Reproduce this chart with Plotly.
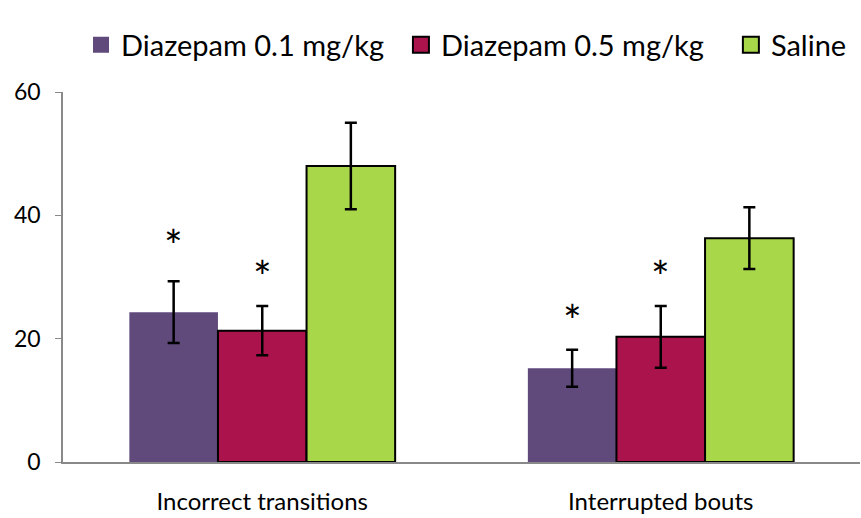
import plotly.graph_objects as go

categories = ["Incorrect transitions", "Interrupted bouts"]
series_names = ["Diazepam 0.1 mg/kg", "Diazepam 0.5 mg/kg", "Saline"]
values = {
    "Diazepam 0.1 mg/kg": [24.3, 15.2],
    "Diazepam 0.5 mg/kg": [21.3, 20.3],
    "Saline": [48.0, 36.3],
}
errors = {
    "Diazepam 0.1 mg/kg": [5.0, 3.0],
    "Diazepam 0.5 mg/kg": [4.0, 5.0],
    "Saline": [7.0, 5.0],
}
# significance markers: (category index, series index, y position)
asterisks = [(0, 0, 36.5), (0, 1, 31.5), (1, 0, 24.3), (1, 1, 31.5)]

colors = ["#604A7B", "#AA134B", "#A8D84A"]
outlines = [0, 2, 2]
legend_ids = ["legend", "legend2", "legend3"]
legend_x = [0.0226, 0.424, 0.838]

fig = go.Figure()
for i, name in enumerate(series_names):
    fig.add_trace(go.Bar(
        name=name, x=categories, y=values[name], showlegend=False,
        marker=dict(color=colors[i], line=dict(color="black", width=outlines[i])),
        error_y=dict(type="data", array=errors[name], color="black", thickness=2.5, width=6),
    ))
# legend entries with larger square symbols
for i, name in enumerate(series_names):
    fig.add_trace(go.Scatter(
        name=name, x=[None], y=[None], mode="markers", legend=legend_ids[i],
        marker=dict(symbol="square", size=16, color=colors[i],
                    line=dict(color="black", width=outlines[i])),
    ))

bargap = 0.333
bw = (1 - bargap) / 3
for ci, si, yv in asterisks:
    fig.add_annotation(x=ci + (si - 1) * bw, y=yv, xref="x", yref="y", text="*",
                       showarrow=False, font=dict(size=44, color="black", family="Lato"),
                       yanchor="middle", yshift=-8)

leg_common = dict(orientation="h", y=1.127, xanchor="left", yanchor="middle",
                  font=dict(size=29, family="Lato"), itemwidth=30, bgcolor="rgba(0,0,0,0)")
fig.update_layout(
    width=861, height=518,
    margin=dict(l=63, r=1, t=92, b=56),
    barmode="group", bargap=bargap, bargroupgap=0,
    plot_bgcolor="white", paper_bgcolor="white",
    font=dict(family="Lato", color="black"),
    showlegend=True,
    legend=dict(x=legend_x[0], **leg_common),
    legend2=dict(x=legend_x[1], **leg_common),
    legend3=dict(x=legend_x[2], **leg_common),
    xaxis=dict(showline=True, linecolor="#898989", linewidth=1.5, ticks="",
               tickfont=dict(size=24), showgrid=False, ticklabelstandoff=17,
               automargin=False),
    yaxis=dict(range=[0, 60], tickvals=[0, 20, 40, 60], showline=True, linecolor="#898989",
               linewidth=1.5, ticks="outside", ticklen=6, tickcolor="#898989",
               tickfont=dict(size=23), showgrid=False, zeroline=False, ticklabelstandoff=10,
               automargin=False),
)
fig.write_html("out.html")
